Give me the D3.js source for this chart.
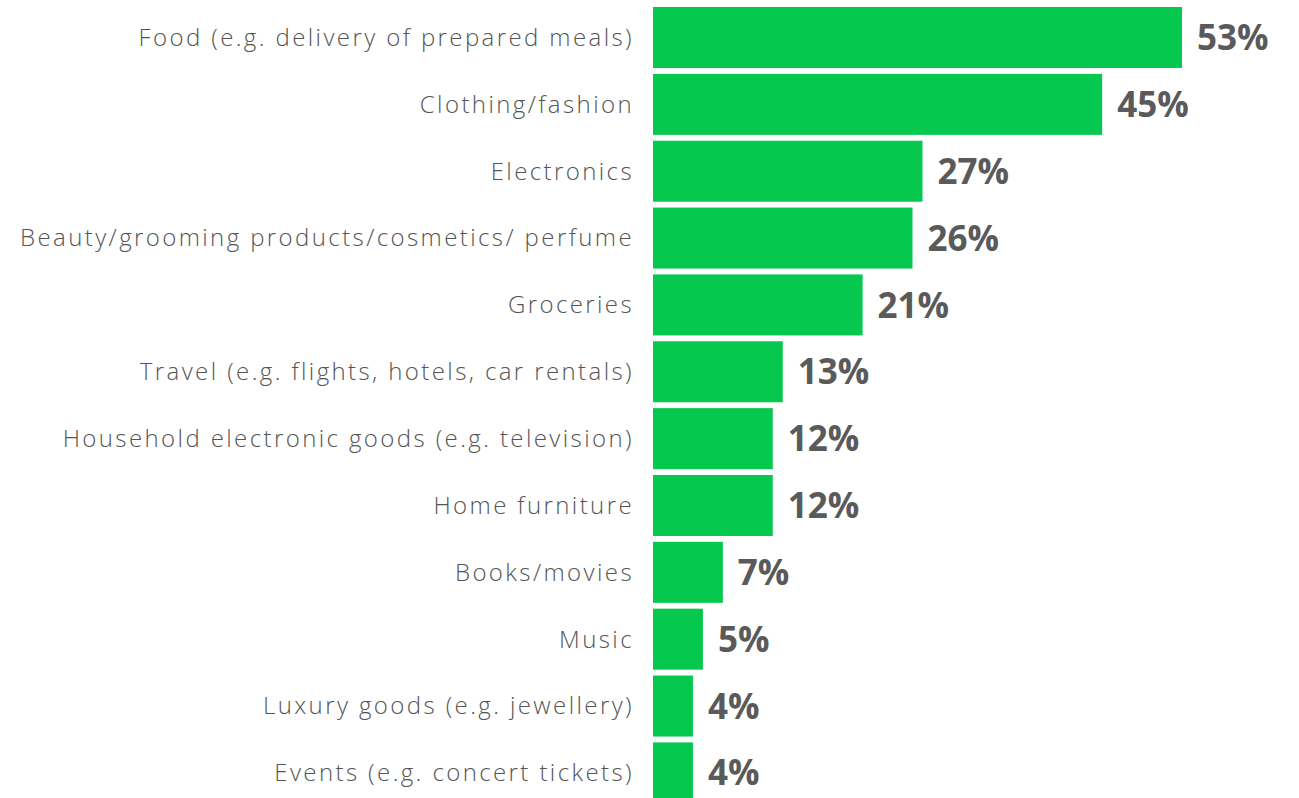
<!DOCTYPE html>
<html><head><meta charset="utf-8">
<script src="https://cdn.jsdelivr.net/npm/d3@7"></script>
<style>html,body{margin:0;padding:0;background:#fff;overflow:hidden}</style>
</head><body>
<svg id="chart" width="1299" height="798"></svg>
<script>
const categories = ["Food (e.g. delivery of prepared meals)","Clothing/fashion","Electronics","Beauty/grooming products/cosmetics/ perfume","Groceries","Travel (e.g. flights, hotels, car rentals)","Household electronic goods (e.g. television)","Home furniture","Books/movies","Music","Luxury goods (e.g. jewellery)","Events (e.g. concert tickets)"];
const values = [53,45,27,26,21,13,12,12,7,5,4,4];

const svg = d3.select("#chart");
const x = d3.scaleLinear().domain([0,53]).range([653,1182]);
const y = d3.scaleBand().domain(categories).range([7,803.4]).paddingInner(0.0875).paddingOuter(0);

svg.selectAll("rect.bar").data(values).join("rect")
  .attr("class","bar")
  .attr("x", x(0))
  .attr("y",(d,i)=>y(categories[i]))
  .attr("width",d=>x(d)-x(0))
  .attr("height",y.bandwidth())
  .attr("fill","#06C84F");

svg.selectAll("text.lab").data(categories).join("text")
  .attr("class","lab")
  .attr("x",634)
  .attr("y",d=>y(d)+y.bandwidth()/2)
  .attr("dy","0.35em")
  .attr("text-anchor","end")
  .attr("font-family","'Open Sans', sans-serif")
  .attr("font-weight",300)
  .attr("font-size",24)
  .attr("letter-spacing","2.4px")
  .attr("fill","#555")
  .text(d=>d);

svg.selectAll("text.val").data(values).join("text")
  .attr("class","val")
  .attr("x",d=>x(d)+15)
  .attr("y",(d,i)=>y(categories[i])+y.bandwidth()/2)
  .attr("dy","0.36em")
  .attr("font-family","'Open Sans', sans-serif")
  .attr("font-weight",700)
  .attr("font-size",35)
  .attr("fill","#5a5a5a")
  .text(d=>d+"%");
</script>
</body></html>
